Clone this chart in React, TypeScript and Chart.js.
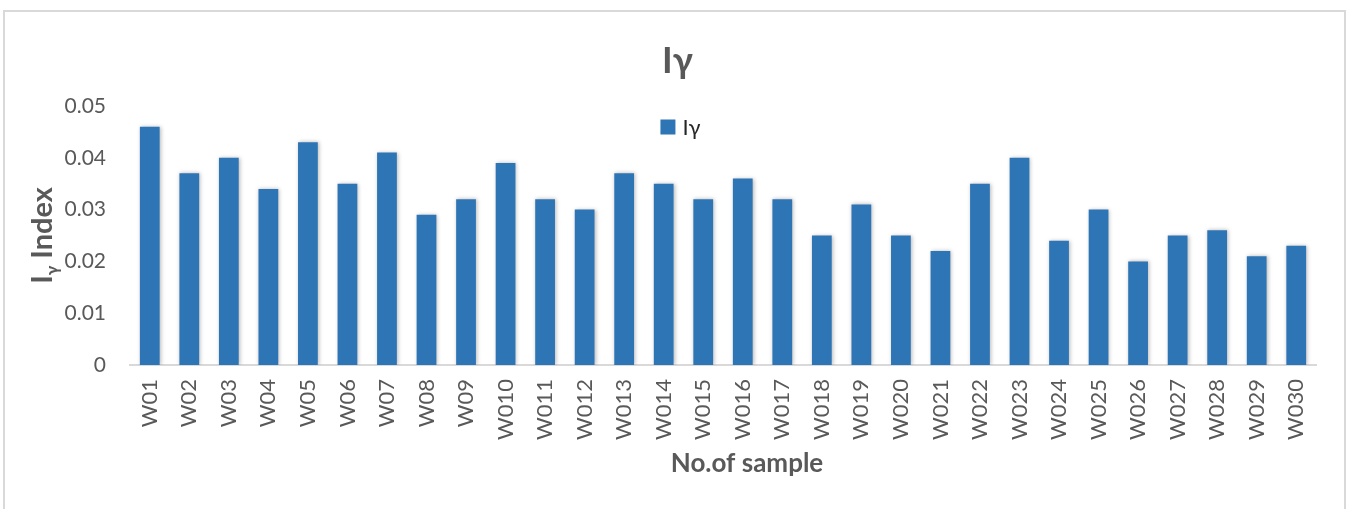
import { useEffect, useRef } from "react";
import { Chart, registerables } from "chart.js";

Chart.register(...registerables);

const categories = [
  "W01", "W02", "W03", "W04", "W05", "W06", "W07", "W08", "W09", "W010",
  "W011", "W012", "W013", "W014", "W015", "W016", "W017", "W018", "W019", "W020",
  "W021", "W022", "W023", "W024", "W025", "W026", "W027", "W028", "W029", "W030",
];

const iGammaValues = [
  0.046, 0.037, 0.04, 0.034, 0.043, 0.035, 0.041, 0.029, 0.032, 0.039,
  0.032, 0.03, 0.037, 0.035, 0.032, 0.036, 0.032, 0.025, 0.031, 0.025,
  0.022, 0.035, 0.04, 0.024, 0.03, 0.02, 0.025, 0.026, 0.021, 0.023,
];

const yMin = 0;
const yMax = 0.05;
const yStep = 0.01;

const chartTitle = "Iγ";
const seriesLabel = "Iγ";
const yTitleMain = "I";
const yTitleSub = "γ";
const yTitleRest = " Index";
const xAxisTitle = "No.of sample";

const FONT = "Lato, 'Open Sans', sans-serif";
const BAR = "#2e75b6";
const TEXT = "#595959";

const barShadow = {
  id: "barShadow",
  beforeDatasetsDraw(chart: any) {
    const ctx = chart.ctx;
    ctx.save();
    ctx.shadowColor = "rgba(0,0,0,0.28)";
    ctx.shadowBlur = 4;
    ctx.shadowOffsetX = 1;
    ctx.shadowOffsetY = 0;
  },
  afterDatasetsDraw(chart: any) {
    chart.ctx.restore();
  },
};

const customDraw = {
  id: "customDraw",
  afterDraw(chart: any) {
    const { ctx, chartArea } = chart;
    ctx.save();
    // title
    ctx.font = `bold 36px ${FONT}`;
    ctx.fillStyle = TEXT;
    ctx.textAlign = "center";
    ctx.textBaseline = "alphabetic";
    ctx.fillText(chartTitle, chart.width / 2 + 2, 73);

    // x-axis title
    ctx.font = `bold 26px ${FONT}`;
    ctx.fillText(xAxisTitle, (chartArea.left + chartArea.right) / 2 + 24, 472);

    // legend
    ctx.font = `22px ${FONT}`;
    const tw = ctx.measureText(seriesLabel).width;
    const box = 15;
    const gap = 7;
    const total = box + gap + tw;
    const lx = chart.width / 2 + 5 - total / 2;
    const ly = chartArea.top + 21;
    ctx.fillStyle = BAR;
    ctx.fillRect(lx, ly - box / 2, box, box);
    ctx.fillStyle = "#262626";
    ctx.textBaseline = "middle";
    ctx.textAlign = "left";
    ctx.fillText(seriesLabel, lx + box + gap, ly + 1);

    // y-axis title with subscript
    const cx = 42;
    const cy = (chartArea.top + chartArea.bottom) / 2;
    ctx.translate(cx, cy);
    ctx.rotate(-Math.PI / 2);
    ctx.fillStyle = TEXT;
    ctx.textBaseline = "alphabetic";
    const mainFont = `bold 29px ${FONT}`;
    const subFont = `bold 17px ${FONT}`;
    ctx.font = mainFont;
    const w1 = ctx.measureText(yTitleMain).width;
    const w3 = ctx.measureText(yTitleRest).width;
    ctx.font = subFont;
    const w2 = ctx.measureText(yTitleSub).width;
    const tot = w1 + w2 + w3;
    let x = -tot / 2;
    const base = 10;
    ctx.font = mainFont;
    ctx.fillText(yTitleMain, x, base);
    x += w1;
    ctx.font = subFont;
    ctx.fillText(yTitleSub, x, base + 6);
    x += w2;
    ctx.font = mainFont;
    ctx.fillText(yTitleRest, x, base);
    ctx.restore();
  },
};

export default function App() {
  const ref = useRef<HTMLCanvasElement | null>(null);

  useEffect(() => {
    if (!ref.current) return;
    const chart = new Chart(ref.current, {
      type: "bar",
      data: {
        labels: categories,
        datasets: [
          {
            label: seriesLabel,
            data: iGammaValues,
            backgroundColor: BAR,
            barPercentage: 0.5,
            categoryPercentage: 1,
          },
        ],
      },
      options: {
        responsive: false,
        animation: false,
        layout: { padding: { left: 0, right: 35, top: 106, bottom: 0 } },
        plugins: {
          legend: { display: false },
          tooltip: { enabled: false },
          title: { display: false },
        },
        scales: {
          x: {
            grid: { display: false, drawTicks: false },
            border: { display: true, color: "#d9d9d9", width: 2 },
            ticks: {
              color: TEXT,
              font: { family: FONT, size: 22 },
              maxRotation: 90,
              minRotation: 90,
              padding: 14,
              autoSkip: false,
            },
            title: { display: false },
            afterFit: (s: any) => {
              s.height = 144;
            },
          },
          y: {
            min: yMin,
            max: yMax,
            grid: { display: false, drawTicks: false },
            border: { display: false },
            ticks: {
              stepSize: yStep,
              color: TEXT,
              font: { family: FONT, size: 21 },
              padding: 24,
              callback: (v: any) => (Number(v) === 0 ? "0" : Number(v).toFixed(2)),
            },
            afterFit: (s: any) => {
              s.width = 130;
            },
          },
        },
      },
      plugins: [barShadow, customDraw],
    });
    return () => chart.destroy();
  }, []);

  return (
    <div style={{ position: "fixed", left: 0, top: 0, width: 1351, height: 509, background: "#fff" }}>
      <div
        style={{
          position: "absolute",
          left: 3,
          top: 10,
          width: 1343,
          height: 520,
          border: "2px solid #d9d9d9",
          boxSizing: "border-box",
        }}
      />
      <canvas ref={ref} width={1351} height={509} style={{ position: "absolute", left: 0, top: 0 }} />
    </div>
  );
}
